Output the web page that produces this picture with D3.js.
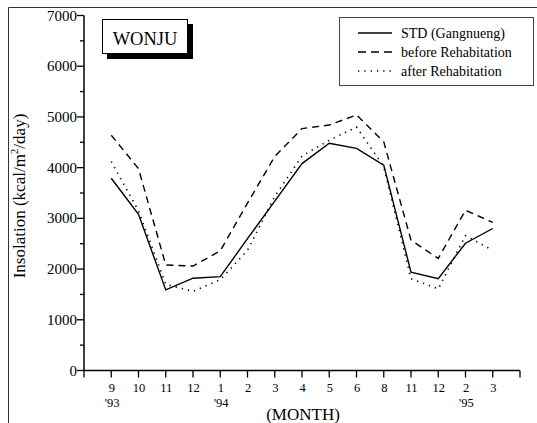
<!DOCTYPE html>
<html>
<head>
<meta charset="utf-8">
<script src="https://cdn.jsdelivr.net/npm/d3@7"></script>
</head>
<body style="margin:0; background:#fff;">
<div id="chart-area"></div>
<script>
// values
var months = ["9","10","11","12","1","2","3","4","5","6","8","11","12","2","3"];
var years  = ["'93","","","","'94","","","","","","","","","'95",""];
var stdGang = [3790,3080,1590,1820,1850,2600,3340,4080,4480,4380,4050,1940,1810,2510,2800];
var beforeReh = [4640,3980,2080,2060,2360,3300,4220,4770,4840,5040,4510,2570,2210,3160,2920];
var afterReh  = [4120,3150,1700,1560,1790,2370,3430,4230,4540,4800,4020,1810,1610,2660,2370];
var yTicks = [0,1000,2000,3000,4000,5000,6000,7000];
var seriesNames = ["STD (Gangnueng)", "before Rehabitation", "after Rehabitation"];
var dashes = [null, "7,5", "1.3,5"];

var serif = "'Liberation Serif'";

var W = 537, H = 423;
var svg = d3.select("#chart-area").append("svg")
	.attr("width", W).attr("height", H);

// helper so every label gets the serif face (no letter-spacing: it breaks the font here)
function label(parent, txt, size) {
	return parent.append("text")
		.style("font-family", serif)
		.style("font-size", size + "px")
		.attr("fill", "#000")
		.text(txt);
}

// outer frame
svg.append("path")
	.attr("d", "M8.5," + H + "V7.5H" + W)
	.attr("fill", "none").attr("stroke", "#333").attr("stroke-width", 1);

var x = d3.scaleLinear().domain([0, 16]).range([84, 520]);
var y = d3.scaleLinear().domain([0, 7000]).range([370.5, 15.5]);

// y axis
var yAxis = svg.append("g");
yAxis.append("line")
	.attr("x1", 84).attr("x2", 84).attr("y1", y(7000)).attr("y2", y(0))
	.attr("stroke", "#000").attr("stroke-width", 1.5);
d3.range(0, 7001, 500).forEach(function(v){
	var major = v % 1000 == 0;
	yAxis.append("line")
		.attr("x1", 84).attr("x2", major ? 77 : 80)
		.attr("y1", y(v)).attr("y2", y(v))
		.attr("stroke", "#000").attr("stroke-width", 1.3);
});
yTicks.forEach(function(d){
	label(yAxis, d, 15)
		.attr("x", 77).attr("y", y(d) + 5)
		.attr("text-anchor", "end");
});

// x axis
var xAxis = svg.append("g");
xAxis.append("line")
	.attr("x1", x(0)).attr("x2", x(16)).attr("y1", y(0)).attr("y2", y(0))
	.attr("stroke", "#000").attr("stroke-width", 1.5);
d3.range(0, 17).forEach(function(i){
	xAxis.append("line")
		.attr("x1", x(i)).attr("x2", x(i))
		.attr("y1", y(0)).attr("y2", y(0) + 7)
		.attr("stroke", "#000").attr("stroke-width", 1.3);
});
months.forEach(function(m, i){
	label(xAxis, m, 12.5)
		.attr("x", x(i + 1) + 0.5).attr("y", 392)
		.attr("text-anchor", "middle");
	if (years[i]) {
		label(xAxis, years[i], 12.5)
			.attr("x", x(i + 1) + 1).attr("y", 407)
			.attr("text-anchor", "middle");
	}
});

// axis titles
label(svg, "(MONTH)", 17)
	.attr("x", 303).attr("y", 420)
	.attr("text-anchor", "middle");

var yTitle = label(svg, "", 17)
	.attr("transform", "translate(25,196) rotate(-90)")
	.attr("text-anchor", "middle");
yTitle.append("tspan").text("Insolation (kcal/m");
yTitle.append("tspan").style("font-size", "11px").attr("dy", -7).text("2");
yTitle.append("tspan").attr("dy", 7).text("/day)");

// lines
var line = d3.line()
	.x(function(d, i){ return x(i + 1); })
	.y(function(d){ return y(d); });

[stdGang, beforeReh, afterReh].forEach(function(s, k){
	svg.append("path")
		.datum(s)
		.attr("d", line)
		.attr("fill", "none")
		.attr("stroke", "#000")
		.attr("stroke-width", k == 2 ? 1.6 : 1.4)
		.attr("stroke-dasharray", dashes[k]);
});

// WONJU box with shadow
svg.append("rect")
	.attr("x", 107).attr("y", 24).attr("width", 86).attr("height", 35)
	.attr("fill", "#000");
svg.append("rect")
	.attr("x", 102.5).attr("y", 19.5).attr("width", 85).attr("height", 34)
	.attr("fill", "#fff").attr("stroke", "#000").attr("stroke-width", 1);
label(svg, "WONJU", 18.5)
	.attr("x", 145).attr("y", 44.5)
	.attr("text-anchor", "middle");

// legend
var legend = svg.append("g");
legend.append("rect")
	.attr("x", 339.5).attr("y", 17.5).attr("width", 194).attr("height", 68)
	.attr("fill", "#fff").attr("stroke", "#444").attr("stroke-width", 1);
seriesNames.forEach(function(name, k){
	var ly = 33 + k * 19;
	legend.append("line")
		.attr("x1", 358).attr("x2", 392).attr("y1", ly).attr("y2", ly)
		.attr("stroke", "#000").attr("stroke-width", 1.4)
		.attr("stroke-dasharray", k == 1 ? "8,5" : dashes[k]);
	label(legend, name, 14)
		.attr("x", 401).attr("y", ly + 4.5);
});
</script>
</body>
</html>
